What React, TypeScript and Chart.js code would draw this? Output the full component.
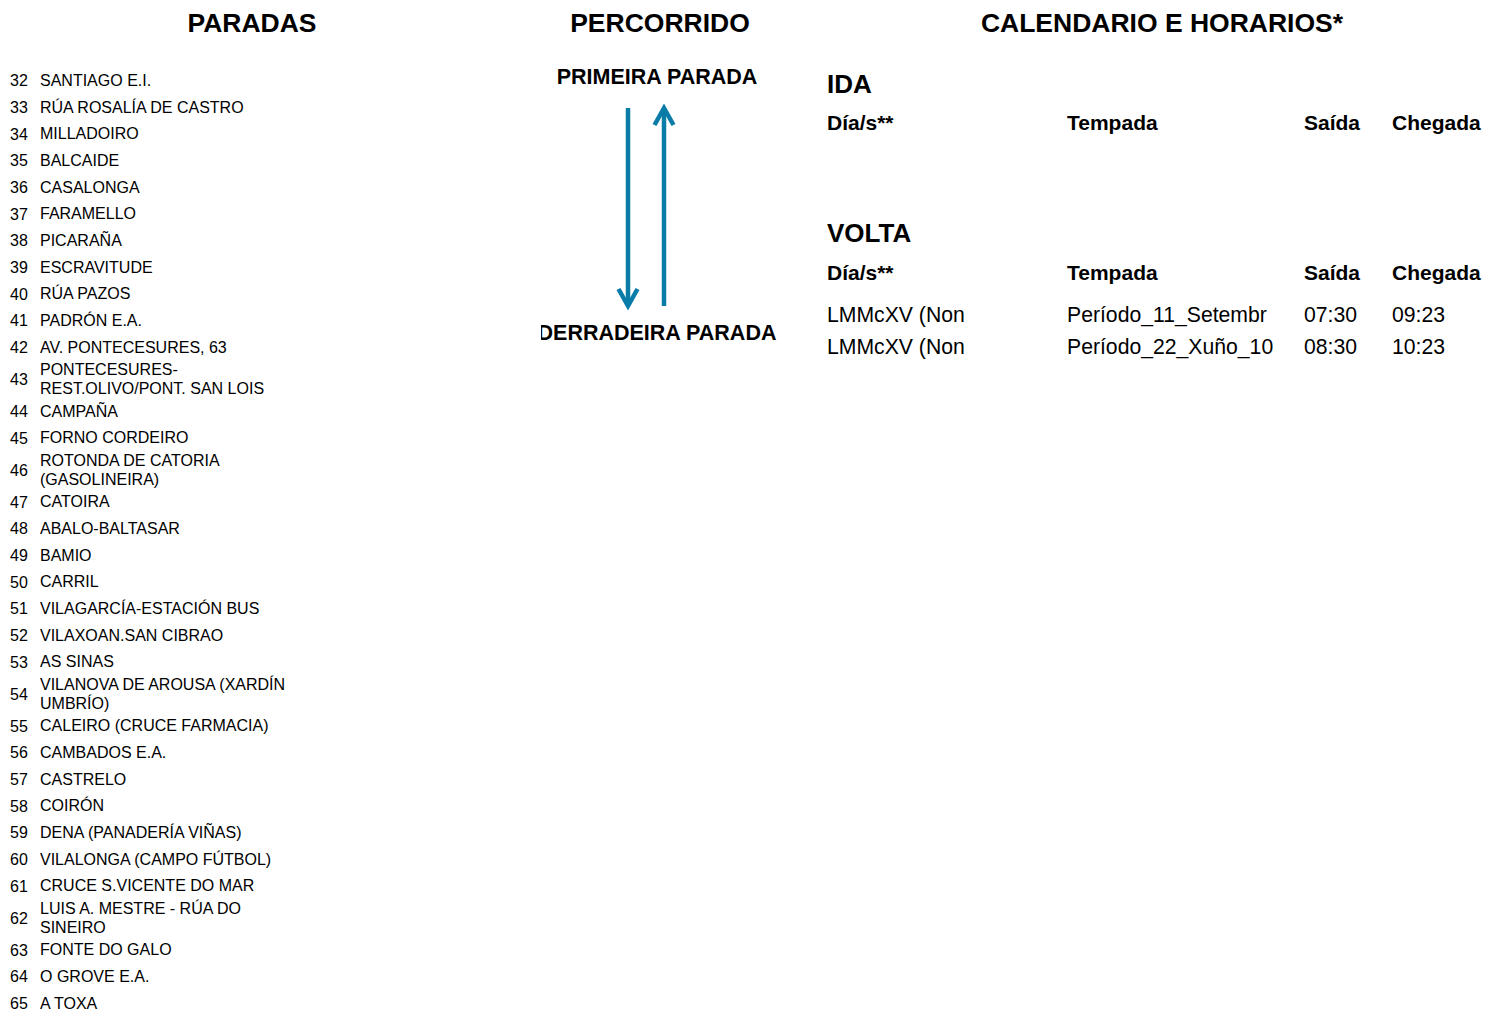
import React, { useEffect, useRef } from "react";
import { Chart, registerables } from "chart.js";

Chart.register(...registerables);

// ---------- data ----------
const stopNumbers = [32, 33, 34, 35, 36, 37, 38, 39, 40, 41, 42, 43, 44, 45, 46, 47, 48, 49, 50, 51, 52, 53, 54, 55, 56, 57, 58, 59, 60, 61, 62, 63, 64, 65];
const stopNames = [
  "SANTIAGO E.I.",
  "RÚA ROSALÍA DE CASTRO",
  "MILLADOIRO",
  "BALCAIDE",
  "CASALONGA",
  "FARAMELLO",
  "PICARAÑA",
  "ESCRAVITUDE",
  "RÚA PAZOS",
  "PADRÓN E.A.",
  "AV. PONTECESURES, 63",
  "PONTECESURES-REST.OLIVO/PONT. SAN LOIS",
  "CAMPAÑA",
  "FORNO CORDEIRO",
  "ROTONDA DE CATORIA (GASOLINEIRA)",
  "CATOIRA",
  "ABALO-BALTASAR",
  "BAMIO",
  "CARRIL",
  "VILAGARCÍA-ESTACIÓN BUS",
  "VILAXOAN.SAN CIBRAO",
  "AS SINAS",
  "VILANOVA DE AROUSA (XARDÍN UMBRÍO)",
  "CALEIRO (CRUCE FARMACIA)",
  "CAMBADOS E.A.",
  "CASTRELO",
  "COIRÓN",
  "DENA (PANADERÍA VIÑAS)",
  "VILALONGA (CAMPO FÚTBOL)",
  "CRUCE S.VICENTE DO MAR",
  "LUIS A. MESTRE - RÚA DO SINEIRO",
  "FONTE DO GALO",
  "O GROVE E.A.",
  "A TOXA",
];

const sectionTitles = ["PARADAS", "PERCORRIDO", "CALENDARIO E HORARIOS*"];
const routeEnds = ["PRIMEIRA PARADA", "DERRADEIRA PARADA"];
const directionTitles = ["IDA", "VOLTA"];
const tableHeaders = ["Día/s**", "Tempada", "Saída", "Chegada"];

const idaDays: string[] = [];
const idaPeriods: string[] = [];
const idaDepartures: string[] = [];
const idaArrivals: string[] = [];

const voltaDays = ["LMMcXV (Non", "LMMcXV (Non"];
const voltaPeriods = ["Período_11_Setembr", "Período_22_Xuño_10"];
const voltaDepartures = ["07:30", "08:30"];
const voltaArrivals = ["09:23", "10:23"];

// ---------- styles ----------
const FONT = '"Liberation Sans", Arial, Helvetica, sans-serif';
const ARROW_COLOR = "#0a7ca8";
const colX = [827, 1067, 1304, 1392];

function Txt(props: { x: number; cy: number; size: number; bold?: boolean; center?: boolean; children: React.ReactNode }) {
  const { x, cy, size, bold, center, children } = props;
  return (
    <div
      style={{
        position: "absolute",
        left: x,
        top: cy - size * 0.5,
        fontSize: size,
        lineHeight: size + "px",
        fontWeight: bold ? 700 : 400,
        whiteSpace: "nowrap",
        transform: center ? "translateX(-50%)" : undefined,
      }}
    >
      {children}
    </div>
  );
}

const arrowHeads = {
  id: "arrowHeads",
  afterDatasetsDraw(chart: any) {
    const ctx = chart.ctx;
    chart.data.datasets.forEach((ds: any, i: number) => {
      const pts = chart.getDatasetMeta(i).data;
      if (pts.length < 2) return;
      const tip = pts[pts.length - 1];
      const prev = pts[pts.length - 2];
      const dx = tip.x - prev.x;
      const dy = tip.y - prev.y;
      const len = Math.hypot(dx, dy) || 1;
      const ux = dx / len;
      const uy = dy / len;
      const back = 17;
      const half = 9.5;
      ctx.save();
      ctx.strokeStyle = ds.borderColor;
      ctx.lineWidth = 4.5;
      ctx.lineJoin = "miter";
      ctx.lineCap = "butt";
      ctx.beginPath();
      ctx.moveTo(tip.x - ux * back - uy * half, tip.y - uy * back + ux * half);
      ctx.lineTo(tip.x, tip.y);
      ctx.lineTo(tip.x - ux * back + uy * half, tip.y - uy * back - ux * half);
      ctx.stroke();
      ctx.restore();
    });
  },
};

function RouteArrows() {
  const ref = useRef<HTMLCanvasElement | null>(null);
  useEffect(() => {
    if (!ref.current) return;
    const first = 0;
    const last = stopNumbers.length - 1;
    const chart = new Chart(ref.current, {
      type: "line",
      data: {
        datasets: [
          {
            label: "IDA",
            data: [
              { x: 0, y: first },
              { x: 0, y: last },
            ],
            borderColor: ARROW_COLOR,
            borderWidth: 4.5,
            pointRadius: 0,
            borderCapStyle: "butt",
          },
          {
            label: "VOLTA",
            data: [
              { x: 1, y: last },
              { x: 1, y: first },
            ],
            borderColor: ARROW_COLOR,
            borderWidth: 4.5,
            pointRadius: 0,
            borderCapStyle: "butt",
          },
        ],
      },
      options: {
        responsive: false,
        animation: false,
        events: [],
        layout: { padding: 0 },
        plugins: { legend: { display: false }, tooltip: { enabled: false } },
        scales: {
          x: { type: "linear", display: false, min: -0.5, max: 1.5 },
          y: { type: "linear", display: false, reverse: true, min: -2, max: last + 2 },
        },
      } as any,
      plugins: [arrowHeads],
    });
    return () => chart.destroy();
  }, []);
  return (
    <canvas
      ref={ref}
      width={72}
      height={222}
      style={{ position: "absolute", left: 610, top: 95.5, width: 72, height: 222, display: "block" }}
    />
  );
}

function ScheduleBlock(props: {
  title: string;
  titleY: number;
  headerY: number;
  firstRowY: number;
  days: string[];
  periods: string[];
  deps: string[];
  arrs: string[];
}) {
  const { title, titleY, headerY, firstRowY, days, periods, deps, arrs } = props;
  return (
    <>
      <Txt x={colX[0]} cy={titleY} size={26} bold>
        {title}
      </Txt>
      {tableHeaders.map((h, i) => (
        <Txt key={h} x={colX[i]} cy={headerY} size={21} bold>
          {h}
        </Txt>
      ))}
      {days.map((d, r) => (
        <React.Fragment key={r}>
          <Txt x={colX[0]} cy={firstRowY + r * 32} size={21.2}>{d}</Txt>
          <Txt x={colX[1]} cy={firstRowY + r * 32} size={21.2}>{periods[r]}</Txt>
          <Txt x={colX[2]} cy={firstRowY + r * 32} size={21.2}>{deps[r]}</Txt>
          <Txt x={colX[3]} cy={firstRowY + r * 32} size={21.2}>{arrs[r]}</Txt>
        </React.Fragment>
      ))}
    </>
  );
}

export default function App() {
  return (
    <div
      style={{
        position: "fixed",
        left: 0,
        top: 0,
        width: 1498,
        height: 1011,
        overflow: "hidden",
        background: "#fff",
        color: "#000",
        fontFamily: FONT,
      }}
    >
      <Txt x={252} cy={23} size={26.5} bold center>{sectionTitles[0]}</Txt>
      <Txt x={660} cy={23} size={26.5} bold center>{sectionTitles[1]}</Txt>
      <Txt x={1162} cy={23} size={26.5} bold center>{sectionTitles[2]}</Txt>

      {/* stops list */}
      <div style={{ position: "absolute", left: 10, top: 68 }}>
        {stopNumbers.map((n, i) => (
          <div key={n} style={{ display: "flex", alignItems: "center", minHeight: 26.67 }}>
            <div style={{ width: 30, fontSize: 16, lineHeight: "18px" }}>{n}</div>
            <div style={{ width: 258, fontSize: 16, lineHeight: "18.7px" }}>{stopNames[i]}</div>
          </div>
        ))}
      </div>

      {/* route */}
      <Txt x={657} cy={78} size={21.5} bold center>{routeEnds[0]}</Txt>
      <RouteArrows />
      <div style={{ position: "absolute", left: 541, top: 333.5 - 12, width: 260, height: 24, overflow: "hidden" }}>
        <Txt x={657 - 541} cy={12} size={21.5} bold center>{routeEnds[1]}</Txt>
      </div>

      {/* timetable */}
      <ScheduleBlock
        title={directionTitles[0]}
        titleY={84}
        headerY={122}
        firstRowY={164}
        days={idaDays}
        periods={idaPeriods}
        deps={idaDepartures}
        arrs={idaArrivals}
      />
      <ScheduleBlock
        title={directionTitles[1]}
        titleY={233}
        headerY={272}
        firstRowY={314.5}
        days={voltaDays}
        periods={voltaPeriods}
        deps={voltaDepartures}
        arrs={voltaArrivals}
      />
    </div>
  );
}
